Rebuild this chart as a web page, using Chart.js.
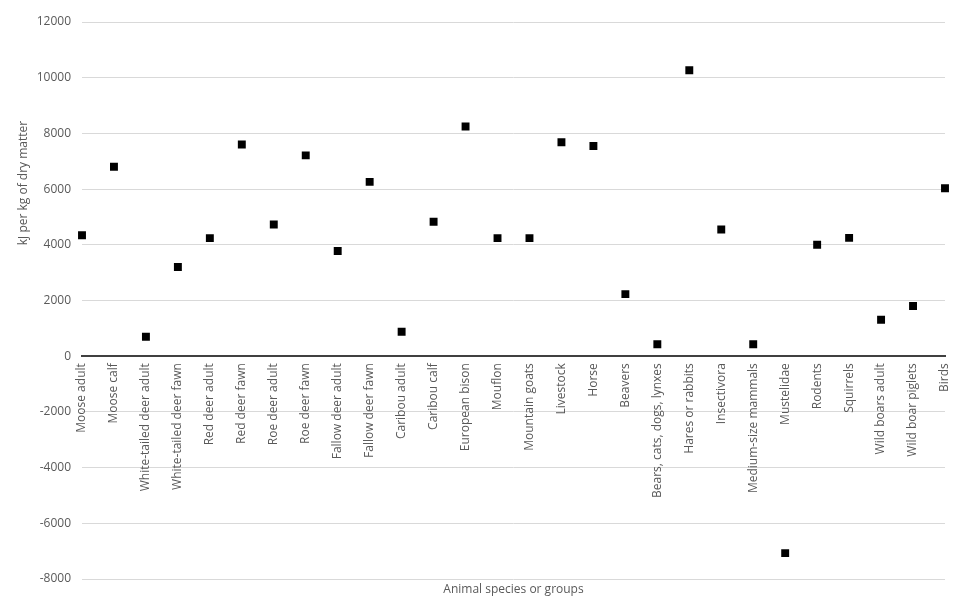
<!DOCTYPE html>
<html>
<head>
<meta charset="utf-8">
<script src="https://cdn.jsdelivr.net/npm/chart.js@4"></script>
<style>
html,body{margin:0;padding:0;background:#fff;}
#wrap{width:977px;height:606px;}
</style>
</head>
<body>
<div id="wrap"><canvas id="c" width="977" height="606"></canvas></div>
<script>
const categories = [
  "Moose adult","Moose calf","White-tailed deer adult","White-tailed deer fawn",
  "Red deer adult","Red deer fawn","Roe deer adult","Roe deer fawn",
  "Fallow deer adult","Fallow deer fawn","Caribou adult","Caribou calf",
  "European bison","Mouflon","Mountain goats","Livestock","Horse","Beavers",
  "Bears, cats, dogs, lynxes","Hares or rabbits","Insectivora","Medium-size mammals",
  "Mustelidae","Rodents","Squirrels","Wild boars adult","Wild boar piglets","Birds"
];
const energyValues = [
  4340, 6800, 700, 3200,
  4240, 7600, 4730, 7210,
  3780, 6260, 880, 4830,
  8250, 4240, 4240, 7680, 7550, 2230,
  430, 10270, 4550, 430,
  -7070, 4000, 4250, 1310, 1800, 6030
];
const yTicks = [-8000,-6000,-4000,-2000,0,2000,4000,6000,8000,10000,12000];
const yTitle = "kJ per kg of dry matter";
const xTitle = "Animal species or groups";

const FONT = "'Open Sans', sans-serif";
const TXT = "#595959";

const titlePlugin = {
  id: 'titles',
  afterDraw(chart) {
    const ctx = chart.ctx, ca = chart.chartArea;
    ctx.save();
    ctx.fillStyle = TXT;
    ctx.font = "12px " + FONT;
    ctx.textAlign = 'center';
    ctx.textBaseline = 'middle';
    ctx.fillText(xTitle, (ca.left + ca.right) / 2, 590);
    ctx.translate(24, 183);
    ctx.rotate(-Math.PI / 2);
    ctx.fillText(yTitle, 0, 0);
    ctx.restore();
  }
};

new Chart(document.getElementById('c'), {
  type: 'line',
  data: {
    labels: categories,
    datasets: [{
      data: energyValues,
      showLine: false,
      pointStyle: 'rect',
      pointRadius: 5.6,
      pointHoverRadius: 5.6,
      pointBorderWidth: 0,
      pointBackgroundColor: '#000',
      borderColor: '#000',
      backgroundColor: '#000'
    }]
  },
  options: {
    responsive: false,
    animation: false,
    layout: { padding: { left: 0, right: 32, top: 22, bottom: 27 } },
    plugins: { legend: { display: false }, tooltip: { enabled: false } },
    scales: {
      x: {
        type: 'category',
        position: { y: 0 },
        offset: false,
        grid: { display: false, drawTicks: false },
        border: { display: true, color: '#404040', width: 2 },
        ticks: {
          autoSkip: false,
          maxRotation: 90,
          minRotation: 90,
          padding: 7,
          color: TXT,
          font: { family: FONT, size: 12 }
        }
      },
      y: {
        min: -8000,
        max: 12000,
        afterBuildTicks(scale) { scale.ticks = yTicks.map(v => ({ value: v })); },
        afterFit(scale) { scale.width = 82; },
        grid: {
          color: c => (c.tick && c.tick.value === 0) ? '#404040' : '#d9d9d9',
          lineWidth: c => (c.tick && c.tick.value === 0) ? 2 : 1,
          drawTicks: false
        },
        border: { display: false },
        ticks: {
          padding: 11,
          color: TXT,
          font: { family: FONT, size: 12 },
          callback: v => String(v)
        }
      }
    }
  },
  plugins: [titlePlugin]
});
</script>
</body>
</html>
